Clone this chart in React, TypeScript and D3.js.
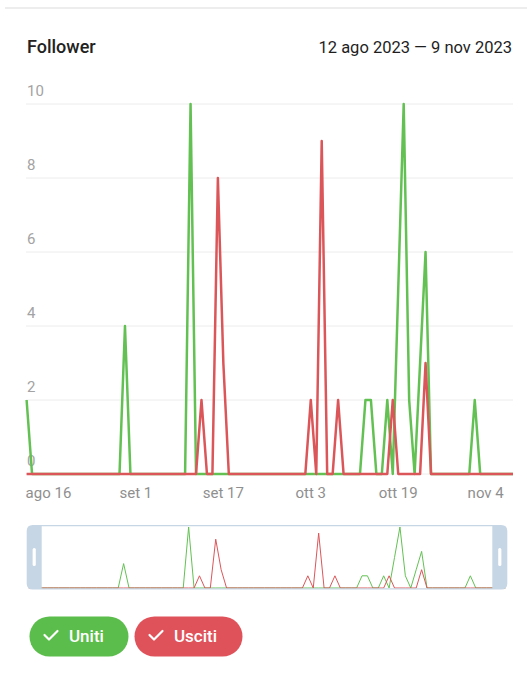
import React from "react";
import * as d3 from "d3";

// ---- data ----
const startDate = new Date(2023, 7, 12);
const endDate = new Date(2023, 10, 9);
const days = d3.timeDay.range(startDate, d3.timeDay.offset(endDate, 1));

const uniti = [
  2, 0, 0, 0, 0, 0, 0, 0, 0, 0,
  0, 0, 0, 0, 0, 0, 0, 0, 4, 0,
  0, 0, 0, 0, 0, 0, 0, 0, 0, 0,
  10, 0, 0, 0, 0, 0, 0, 0, 0, 0,
  0, 0, 0, 0, 0, 0, 0, 0, 0, 0,
  0, 0, 0, 0, 0, 0, 0, 0, 0, 0,
  0, 0, 2, 2, 0, 0, 2, 0, 5, 10,
  2, 0, 3, 6, 0, 0, 0, 0, 0, 0,
  0, 0, 2, 0, 0, 0, 0, 0, 0, 0,
];
const usciti = [
  0, 0, 0, 0, 0, 0, 0, 0, 0, 0,
  0, 0, 0, 0, 0, 0, 0, 0, 0, 0,
  0, 0, 0, 0, 0, 0, 0, 0, 0, 0,
  0, 0, 2, 0, 0, 8, 3, 0, 0, 0,
  0, 0, 0, 0, 0, 0, 0, 0, 0, 0,
  0, 0, 2, 0, 9, 0, 0, 2, 0, 0,
  0, 0, 0, 0, 0, 0, 0, 2, 0, 0,
  0, 0, 0, 3, 0, 0, 0, 0, 0, 0,
  0, 0, 0, 0, 0, 0, 0, 0, 0, 0,
];
const yTicks = [0, 2, 4, 6, 8, 10];
const xTickDates = [
  new Date(2023, 7, 16),
  new Date(2023, 8, 1),
  new Date(2023, 8, 17),
  new Date(2023, 9, 3),
  new Date(2023, 9, 19),
  new Date(2023, 10, 4),
];
const xTickLabels = ["ago 16", "set 1", "set 17", "ott 3", "ott 19", "nov 4"];
const title = "Follower";
const rangeLabel = "12 ago 2023 — 9 nov 2023";
const seriesNames = ["Uniti", "Usciti"];

const GREEN = "#63c153";
const RED = "#db5659";
const FONT = "Roboto, 'Noto Sans', sans-serif";

export default function App() {
  const W = 527;
  const H = 681;
  const x = d3.scaleTime().domain([startDate, endDate]).range([26.6, 513]);
  const y = d3.scaleLinear().domain([0, 10]).range([474, 104]);
  const xn = d3.scaleTime().domain([startDate, endDate]).range([26.1, 508.3]);
  const yn = d3.scaleLinear().domain([0, 10]).range([588, 527]);

  const line = (vals: number[]) =>
    d3
      .line<number>()
      .x((_, i) => x(days[i]))
      .y((v) => y(v))(vals) || "";
  const lineN = (vals: number[]) =>
    d3
      .line<number>()
      .x((_, i) => xn(days[i]))
      .y((v) => yn(v))(vals) || "";

  const navL = 26.7;
  const navR = 507.3;
  const navT = 525;
  const navB = 589.5;
  const handleW = 15;
  const frameColor = "#c7d6e4";

  const buttons = [
    { name: seriesNames[0], color: "#5bbd4b", x: 29.5, w: 99 },
    { name: seriesNames[1], color: "#e0525a", x: 134.5, w: 108 },
  ];

  return (
    <svg
      width={W}
      height={H}
      style={{ position: "absolute", left: 0, top: 0, background: "#fff" }}
      fontFamily={FONT}
    >
      <defs>
        <clipPath id="navclip">
          <rect x={navL + 2} y={navT} width={navR - navL - 4} height={navB - navT} />
        </clipPath>
      </defs>
      <line x1={5} x2={W} y1={8} y2={8} stroke="#ededed" strokeWidth={2} />
      <text x={27} y={53} fontSize={18} fontWeight={500} fill="#222">
        {title}
      </text>
      <text x={512} y={53} fontSize={16.5} fontWeight={400} fill="#1e1e1e" textAnchor="end">
        {rangeLabel}
      </text>

      {yTicks.map((t) => (
        <g key={t}>
          <line x1={26} x2={513} y1={y(t)} y2={y(t)} stroke="#ececec" strokeWidth={1} />
          <text x={27} y={y(t) - 8} fontSize={15} fill="#a3a3a3">
            {t}
          </text>
        </g>
      ))}

      {xTickDates.map((d, i) => (
        <text
          key={i}
          x={x(d)}
          y={498}
          fontSize={15}
          fill="#8f8f8f"
          textAnchor="middle"
        >
          {xTickLabels[i]}
        </text>
      ))}

      <path d={line(uniti)} fill="none" stroke={GREEN} strokeWidth={2.5} strokeLinejoin="round" />
      <path d={line(usciti)} fill="none" stroke={RED} strokeWidth={2.5} strokeLinejoin="round" />

      {/* navigator */}
      <g clipPath="url(#navclip)">
        <path d={lineN(uniti)} fill="none" stroke={GREEN} strokeWidth={1} />
        <path d={lineN(usciti)} fill="none" stroke={RED} strokeWidth={1} />
      </g>
      <path
        fillRule="evenodd"
        fill={frameColor}
        d={`M${navL + 6},${navT} H${navR - 6} Q${navR},${navT} ${navR},${navT + 6} V${navB - 6} Q${navR},${navB} ${navR - 6},${navB} H${navL + 6} Q${navL},${navB} ${navL},${navB - 6} V${navT + 6} Q${navL},${navT} ${navL + 6},${navT} Z M${navL + handleW},${navT + 1.2} H${navR - handleW} V${navB - 1.2} H${navL + handleW} Z`}
      />
      <rect x={navL + handleW / 2 - 1.6} y={548} width={3.2} height={18} rx={1.5} fill="#fff" />
      <rect x={navR - handleW / 2 - 1.6} y={548} width={3.2} height={18} rx={1.5} fill="#fff" />

      {/* buttons */}
      {buttons.map((b) => (
        <g key={b.name}>
          <rect x={b.x} y={616.5} width={b.w} height={40} rx={20} fill={b.color} />
          <path
            d={`M${b.x + 15},${635} l4.5,4.5 l8.5,-8.5`}
            fill="none"
            stroke="#fff"
            strokeWidth={2.2}
            strokeLinecap="round"
            strokeLinejoin="round"
          />
          <text x={b.x + 39.5} y={642} fontSize={17} fontWeight={500} fill="#fff">
            {b.name}
          </text>
        </g>
      ))}
    </svg>
  );
}
